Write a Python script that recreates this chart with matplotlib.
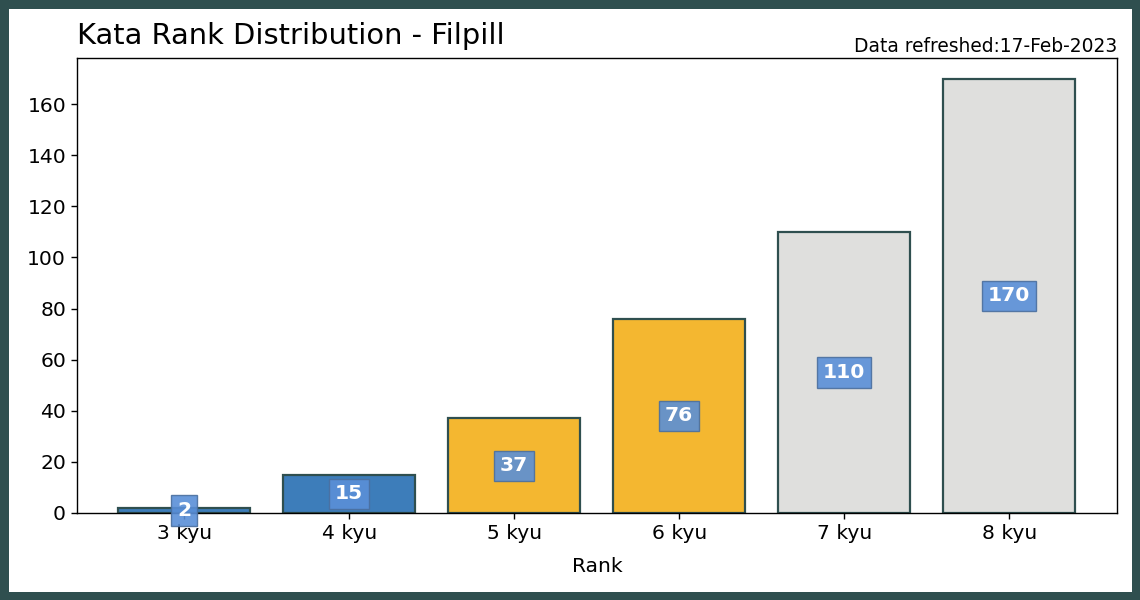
import matplotlib
matplotlib.use("Agg")
import matplotlib.pyplot as plt

plt.rcParams["font.family"] = ["DejaVu Sans"]
plt.rcParams["axes.linewidth"] = 1.0
plt.rcParams["xtick.major.size"] = 4.3
plt.rcParams["ytick.major.size"] = 4.3
plt.rcParams["xtick.major.width"] = 1.0
plt.rcParams["ytick.major.width"] = 1.0

# Data
ranks = ["3 kyu", "4 kyu", "5 kyu", "6 kyu", "7 kyu", "8 kyu"]
counts = [2, 15, 37, 76, 110, 170]
bar_colors = ["#3d7dba", "#3d7dba", "#f4b730", "#f4b730", "#dfdfdd", "#dfdfdd"]
title = "Kata Rank Distribution - Filpill"
refreshed = "Data refreshed:17-Feb-2023"

fig, ax = plt.subplots(figsize=(11.4, 6), dpi=100,
                       facecolor="white", edgecolor="#2f4f4f", linewidth=12)
fig.subplots_adjust(left=0.0675, right=0.98, top=0.903, bottom=0.145)

bars = ax.bar(ranks, counts, color=bar_colors, edgecolor="#2f4f4f", linewidth=1.6)

for rect, val in zip(bars, counts):
    ax.text(rect.get_x() + rect.get_width() / 2, rect.get_height() / 2, str(val),
            ha="center", va="center", color="white", fontsize=14.6, fontweight="bold",
            bbox=dict(boxstyle="square,pad=0.28", facecolor="#5a8fd8", alpha=0.9,
                      edgecolor="#4a6f9f", linewidth=1))

ax.set_xlabel("Rank", fontsize=14.6, labelpad=10)
ax.tick_params(labelsize=14.6)
ax.set_xlim(-0.65, 5.655)
ax.set_ylim(0, 178)
ax.set_title(title, loc="left", fontsize=20.8, pad=10)
ax.text(1.0, 1.013, refreshed, transform=ax.transAxes, ha="right", va="baseline",
        fontsize=13.4)

fig.savefig("out.png", dpi=100, facecolor="white", edgecolor="#2f4f4f")
